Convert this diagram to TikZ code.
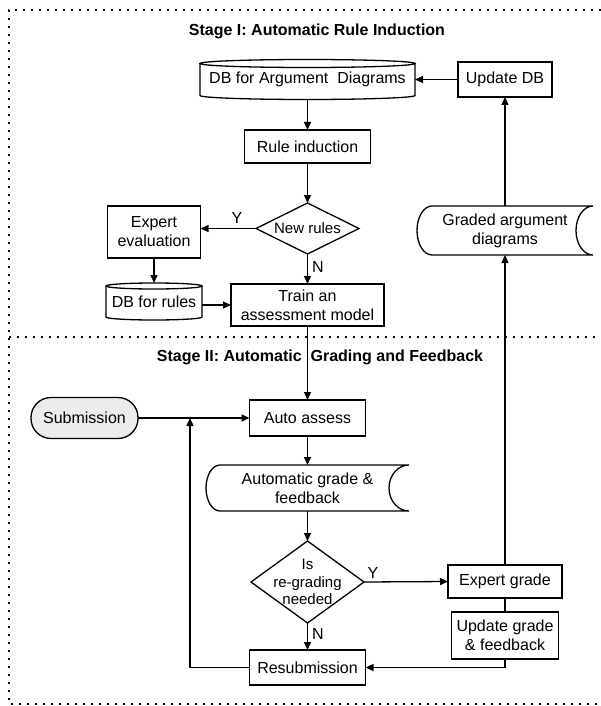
\documentclass[tikz,border=0pt]{standalone}
\usepackage{fontspec}
\setmainfont{Liberation Sans}
\usetikzlibrary{arrows.meta}
\definecolor{subfill}{RGB}{236,236,236}
\tikzset{
  base/.style={inner sep=1pt, outer sep=0pt, align=center, font=\fontsize{16}{19}\selectfont},
  box/.style={base, draw, line width=1.3pt},
  ghost/.style={base},
  dtext/.style={base, font=\fontsize{15}{17.5}\selectfont},
  outl/.style={line width=1.3pt},
  conn/.style={line width=1.3pt, -{Triangle[length=8pt,width=7pt]}},
  plainline/.style={line width=1.3pt},
  framedots/.style={line width=1.6pt, dash pattern=on 1.6pt off 6.4pt},
  ttl/.style={inner sep=0pt, font=\bfseries\fontsize{16}{19}\selectfont},
  lbl/.style={inner sep=0pt, font=\fontsize{16}{19}\selectfont}
}
% cylinder outline: x1 y1 x2 y2 ry (y grows downwards)
\newcommand\cylout[5]{%
  \draw[outl] ({(#1+#3)/2},{#2+#5}) ellipse [x radius={(#3-#1)/2}, y radius=#5];
  \draw[outl] (#1,{#2+#5}) -- (#1,{#4-#5})
    .. controls (#1,{#4-#5+0.5523*#5}) and ({(#1+#3)/2-0.5523*(#3-#1)/2},#4) .. ({(#1+#3)/2},#4)
    .. controls ({(#1+#3)/2+0.5523*(#3-#1)/2},#4) and (#3,{#4-#5+0.5523*#5}) .. (#3,{#4-#5})
    -- (#3,{#2+#5});
}
% stored data outline: x1 y1 x2 y2 dl dr
\newcommand\sdout[6]{%
  \draw[outl] ({#1+#5},#2) -- (#3,#2)
    .. controls ({#3-0.5523*#6},#2) and ({#3-#6},{(#2+#4)/2-0.5523*(#4-#2)/2}) .. ({#3-#6},{(#2+#4)/2})
    .. controls ({#3-#6},{(#2+#4)/2+0.5523*(#4-#2)/2}) and ({#3-0.5523*#6},#4) .. (#3,#4)
    -- ({#1+#5},#4)
    .. controls ({#1+#5-0.5523*#5},#4) and (#1,{(#2+#4)/2+0.5523*(#4-#2)/2}) .. (#1,{(#2+#4)/2})
    .. controls (#1,{(#2+#4)/2-0.5523*(#4-#2)/2}) and ({#1+#5-0.5523*#5},#2) .. cycle;
}
\begin{document}
\begin{tikzpicture}[x=1pt,y=-1pt]
\fill[white] (0,0) rectangle (601,706);
\useasboundingbox (0,0) rectangle (601,706);

% frame
\draw[framedots] (601,10) -- (9,10) -- (9,704) -- (601,704);
\draw[framedots] (9,337) -- (601,337);

% titles
\node[ttl] (t1) at (317,31) {Stage I: Automatic Rule Induction};
\node[ttl] (t2) at (320,357) {Stage II: Automatic~ Grading and Feedback};

% Stage I nodes
\node[ghost, minimum width=215pt, minimum height=40pt] (db) at (307.5,79.5) {DB for Argument~ Diagrams};
\cylout{200}{59.5}{415}{99.5}{4}
\node[box, minimum width=94pt, minimum height=35pt] (upd) at (505,79.5) {Update DB};
\node[box, minimum width=126pt, minimum height=33pt] (rule) at (307.5,146.5) {Rule induction};
\node[dtext, minimum width=103pt, minimum height=51pt] (newr) at (307.5,228.5) {New rules};
\draw[outl] (newr.west) -- (newr.north) -- (newr.east) -- (newr.south) -- cycle;
\node[box, minimum width=93pt, minimum height=52pt] (expev) at (154,232) {Expert\\evaluation};
\node[ghost, minimum width=96pt, minimum height=37pt] (dbr) at (154,301.5) {DB for rules};
\cylout{106}{283}{202}{320}{3}
\node[box, minimum width=153pt, minimum height=42pt] (train) at (307.5,305) {Train an\\assessment model};
\node[ghost, minimum width=176pt, minimum height=49pt] (graded) at (505,230.5) {Graded argument\\diagrams};
\sdout{417}{206}{593}{255}{15}{17}

% Stage II nodes
\node[base, draw, fill=subfill, line width=1.3pt, rounded corners=20pt, minimum width=107pt, minimum height=41pt] (subm) at (84.5,418) {Submission};
\node[box, minimum width=116pt, minimum height=36pt] (auto) at (307.5,418) {Auto assess};
\node[ghost, minimum width=203pt, minimum height=46pt] (agf) at (307.5,488) {Automatic grade \&\\feedback};
\sdout{206}{465}{409}{511}{14}{20}
\node[dtext, minimum width=113pt, minimum height=82pt] (regr) at (307.5,582) {Is\\re-grading\\needed};
\draw[outl] (regr.west) -- (regr.north) -- (regr.east) -- (regr.south) -- cycle;
\node[box, minimum width=114pt, minimum height=33pt] (expg) at (505,581.5) {Expert grade};
\node[box, minimum width=107pt, minimum height=47pt] (updg) at (505,635.5) {Update grade\\\& feedback};
\node[box, minimum width=116pt, minimum height=35pt] (resub) at (307.5,667.5) {Resubmission};
\coordinate (jn) at (190,418);

% connectors Stage I
\draw[conn] (upd.west) -- (upd.west -| db.east);
\draw[conn] (db.south) -- (rule.north);
\draw[conn] (rule.south) -- (newr.north);
\draw[conn] (newr.west) -- (newr.west -| expev.east);
\node[lbl] (ly1) at (237,218) {Y};
\draw[conn] (expev.south) -- (dbr.north);
\draw[conn] (dbr.east |- train.west) -- (train.west);
\draw[conn] (newr.south) -- (train.north);
\node[lbl] (ln1) at (318,267) {N};

% connectors Stage II
\draw[conn] (train.south) -- (auto.north);
\draw[conn] (subm.east) -- (auto.west);
\draw[conn] (resub.west) -| (jn);
\draw[conn] (auto.south) -- (agf.north);
\draw[conn] (agf.south) -- (regr.north);
\draw[conn] (regr.east) -- (expg.west);
\node[lbl] (ly2) at (373,573) {Y};
\draw[conn] (regr.south) -- (resub.north);
\node[lbl] (ln2) at (318,634) {N};
\draw[plainline] (expg.south) -- (updg.north);
\draw[conn] (updg.south) |- (resub.east);
\draw[conn] (expg.north) -- (graded.south);
\draw[conn] (graded.north) -- (upd.south);
\end{tikzpicture}
\end{document}
